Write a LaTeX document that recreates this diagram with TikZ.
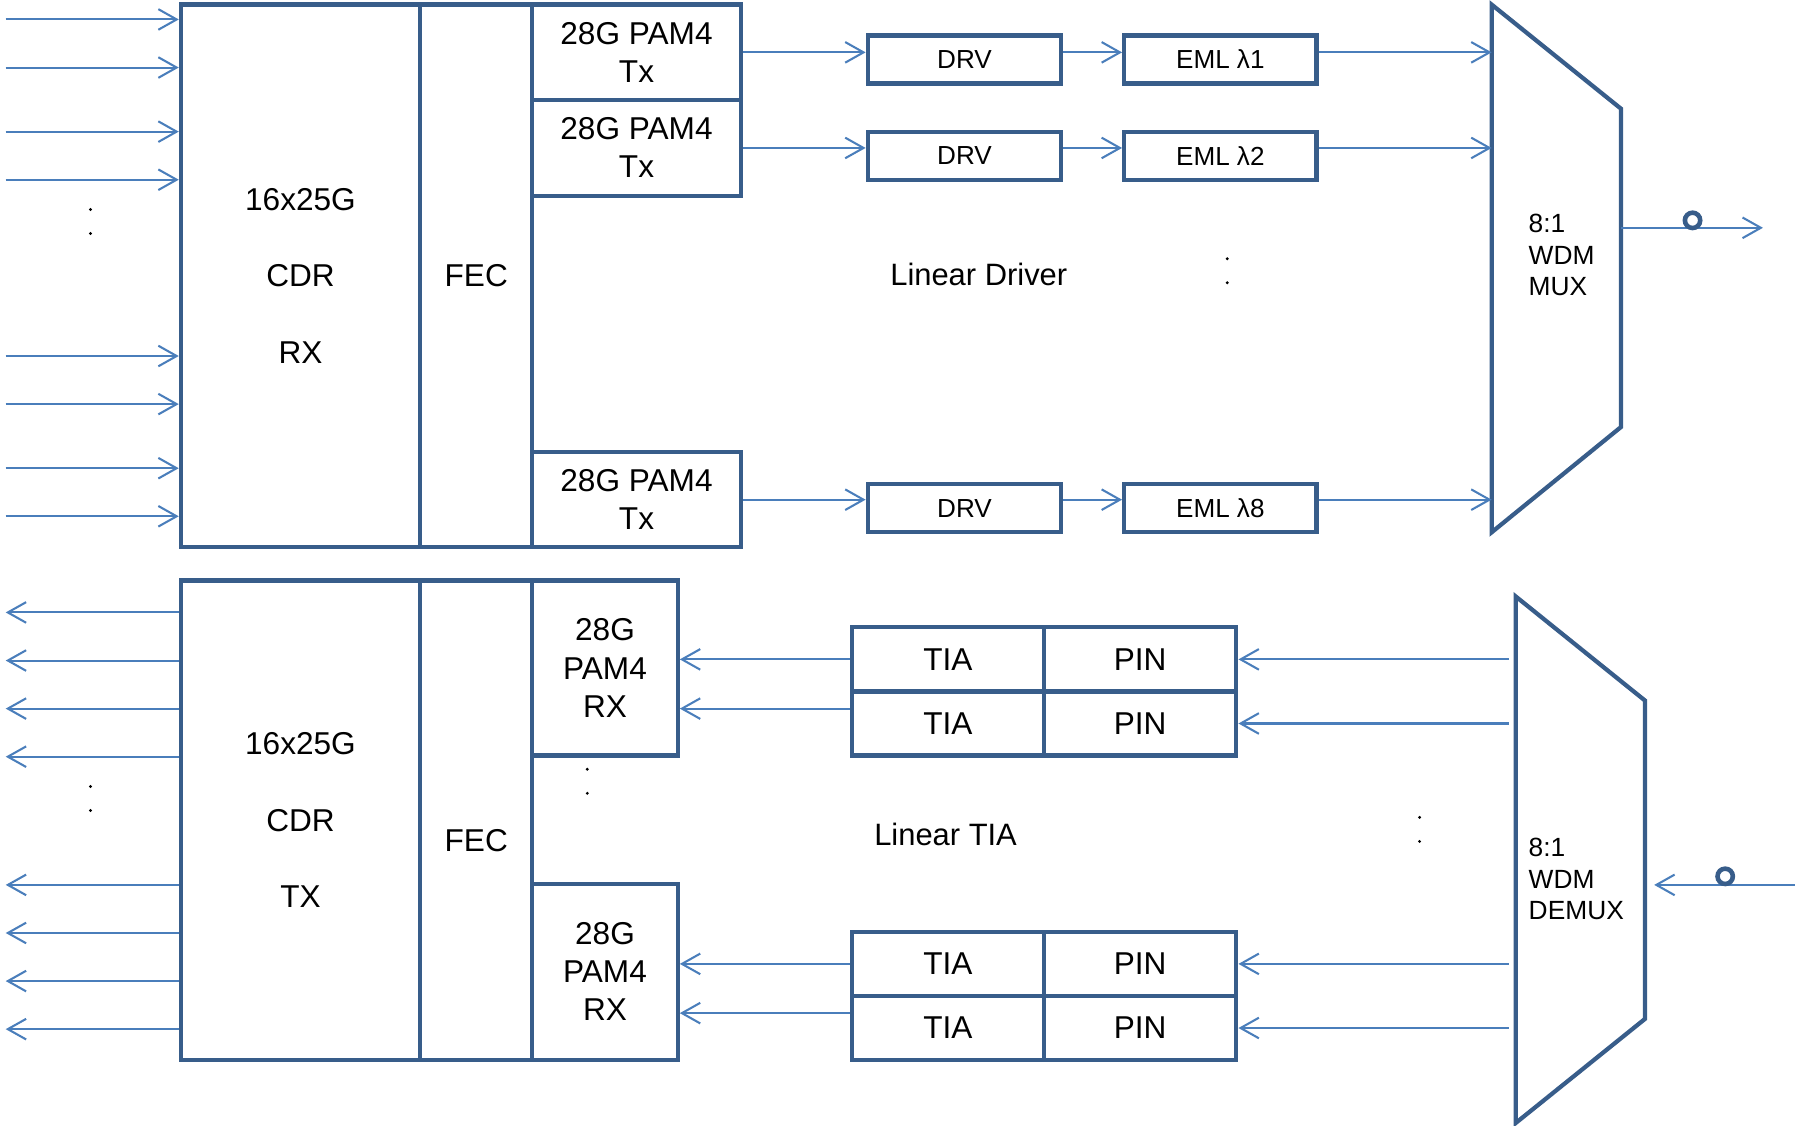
\documentclass[tikz,border=0pt]{standalone}
\usepackage{fontspec}
\setmainfont{Liberation Sans}
\usetikzlibrary{arrows.meta,calc}
\definecolor{boxc}{HTML}{385D8A}
\definecolor{linec}{HTML}{4A7EBB}
\begin{document}
\begin{tikzpicture}[x=0.5pt,y=-0.5pt,
  blk/.style={draw=boxc,line width=1.85pt,inner sep=0pt,align=center,font=\fontsize{13.8}{16.6}\selectfont},
  bigblk/.style={blk,font=\fontsize{13.8}{33.5}\selectfont},
  sblk/.style={blk,font=\fontsize{11.4}{13.75}\selectfont},
  arr/.style={draw=linec,line width=0.9pt,-{Straight Barb[length=8pt,width=9pt]}},
  lbl/.style={inner sep=0pt,font=\fontsize{13.5}{16.5}\selectfont},
  slbl/.style={inner sep=0pt,align=left,anchor=west,font=\fontsize{11.5}{13.75}\selectfont},
  dotm/.style={fill=black,circle,inner sep=0pt,minimum size=1.4pt},
  ring/.style={draw=boxc,fill=white,line width=2pt},
  trap/.style={draw=boxc,line width=1.85pt,line join=miter},
]
\useasboundingbox (0,0) rectangle (1568,983);

% ---------------- top: transmitter ----------------
\node[bigblk,minimum width=104.5pt,minimum height=237pt] (cdrrx) at (262.5,241) {16x25G\\CDR\\RX};
\node[blk,minimum width=49pt,minimum height=237pt] (fec1) at (416,241) {FEC};
\node[blk,minimum width=91pt,minimum height=41.75pt] (tx1) at (556,45.75) {28G PAM4\\Tx};
\node[blk,minimum width=91pt,minimum height=41.75pt] (tx2) at (556,129.25) {28G PAM4\\Tx};
\node[blk,minimum width=91pt,minimum height=41.5pt] (tx3) at (556,436.5) {28G PAM4\\Tx};

\node[sblk,minimum width=84.5pt,minimum height=21pt] (drv1) at (842.5,52) {DRV};
\node[sblk,minimum width=84.5pt,minimum height=21pt] (drv2) at (842.5,136) {DRV};
\node[sblk,minimum width=84.5pt,minimum height=21pt] (drv3) at (842.5,444) {DRV};
\node[sblk,minimum width=84pt,minimum height=21pt] (eml1) at (1066,52) {EML λ1};
\node[sblk,minimum width=84pt,minimum height=21pt] (eml2) at (1066,136) {EML λ2};
\node[sblk,minimum width=84pt,minimum height=21pt] (eml3) at (1066,444) {EML λ8};

\draw[trap] (1303,4) coordinate (muxtl) -- (1416,95) -- (1416,373) -- (1303,465) -- cycle;
\node[slbl] (muxlbl) at (1335,223) {8:1\\WDM\\MUX};
\node[lbl] (ldrv) at (855,240) {Linear Driver};

\foreach \i/\y in {1/17,2/59,3/115,4/157,5/311,6/353,7/409,8/451}{
  \coordinate (in\i) at (5,\y);
  \draw[arr] (in\i) -- (in\i -| cdrrx.west);
}
\foreach \t/\d/\e in {tx1/drv1/eml1,tx2/drv2/eml2,tx3/drv3/eml3}{
  \draw[arr] (\t.east) -- (\t.east -| \d.west);
  \draw[arr] (\t.east -| \d.east) -- (\t.east -| \e.west);
  \draw[arr] (\t.east -| \e.east) -- (\t.east -| muxtl);
}
\coordinate (muxout) at (1416,199);
\coordinate (txout) at (1540,199);
\draw[arr] (muxout) -- (txout);
\draw[ring] (1478.5,192.5) circle[radius=3.35pt];

\node[dotm] (d1) at (79,183) {};
\node[dotm] (d2) at (79,204) {};
\node[dotm] (d3) at (1072,226) {};
\node[dotm] (d4) at (1072,247) {};

% ---------------- bottom: receiver ----------------
\node[bigblk,minimum width=104.5pt,minimum height=209.5pt] (cdrtx) at (262.5,716.5) {16x25G\\CDR\\TX};
\node[blk,minimum width=49pt,minimum height=209.5pt] (fec2) at (416,716.5) {};
\node[lbl,font=\fontsize{13.8}{16.6}\selectfont] (fec2t) at (416,734) {FEC};
\node[blk,minimum width=63.5pt,minimum height=76.5pt] (rx1) at (528.5,583.5) {28G\\PAM4\\RX};
\node[blk,minimum width=63.5pt,minimum height=77pt] (rx2) at (528.5,849) {28G\\PAM4\\RX};

\foreach \n/\y in {1/576,2/632,3/842,4/898}{
  \node[blk,minimum width=84pt,minimum height=28pt] (tia\n) at (828,\y) {TIA};
  \node[blk,minimum width=84pt,minimum height=28pt] (pin\n) at (996,\y) {PIN};
}

\draw[trap] (1324,521) coordinate (dmtl) -- (1437,612) -- (1437,890) -- (1324,981) -- cycle;
\node[slbl] (dmlbl) at (1335,768) {8:1\\WDM\\DEMUX};
\node[lbl] (ltia) at (826,729) {Linear TIA};

\foreach \i/\y in {1/535,2/577,3/619,4/661,5/773,6/815,7/857,8/899}{
  \coordinate (out\i) at (5,\y);
  \draw[arr] (out\i -| cdrtx.west) -- (out\i);
}
\coordinate (t2) at ($(tia2.west)+(0,-13)$);
\coordinate (t4) at ($(tia4.west)+(0,-13)$);
\draw[arr] (tia1.west) -- (tia1.west -| rx1.east);
\draw[arr] (t2) -- (t2 -| rx1.east);
\draw[arr] (tia3.west) -- (tia3.west -| rx2.east);
\draw[arr] (t4) -- (t4 -| rx2.east);

\coordinate (dmL) at (1318,0);
\foreach \n in {1,2,3,4}{
  \draw[arr] (pin\n.east -| dmL) -- (pin\n.east);
}
\coordinate (rxin) at (1568,773);
\coordinate (dmin) at (1445,773);
\draw[arr] (rxin) -- (dmin);
\draw[ring] (1507,765.5) circle[radius=3.35pt];

\node[dotm] (d5) at (79,687) {};
\node[dotm] (d6) at (79,708) {};
\node[dotm] (d7) at (513,672) {};
\node[dotm] (d8) at (513,693) {};
\node[dotm] (d9) at (1240,714) {};
\node[dotm] (d10) at (1240,735) {};
\end{tikzpicture}
\end{document}
